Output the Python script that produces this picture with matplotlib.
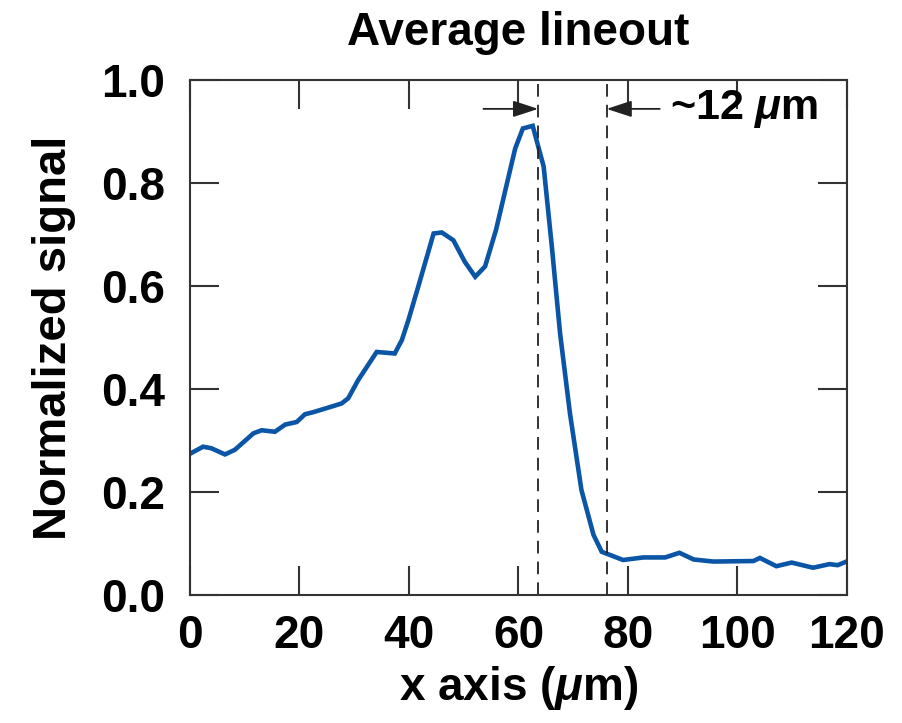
import matplotlib
matplotlib.use("Agg")
import matplotlib.pyplot as plt

plt.rcParams['font.family'] = ['Liberation Sans', 'DejaVu Sans']
plt.rcParams['font.weight'] = 'bold'
plt.rcParams['mathtext.fontset'] = 'custom'
plt.rcParams['mathtext.it'] = 'Liberation Sans:bold:italic'
plt.rcParams['mathtext.rm'] = 'Liberation Sans:bold'

x_um = [0.3, 2.4, 3.9, 6.4, 8.2, 11.6, 13.1, 15.5, 17.4, 19.5, 21.0, 22.5, 25.9, 27.7,
        28.9, 30.7, 34.1, 37.4, 38.7, 39.9, 41.7, 44.5, 46.0, 48.1, 50.2, 52.1, 53.9,
        55.9, 57.8, 59.4, 60.8, 62.6, 64.6, 66.1, 67.6, 69.4, 71.5, 73.7, 75.2, 79.1,
        82.8, 86.8, 89.4, 92.0, 95.6, 102.9, 104.1, 107.1, 109.9, 113.8, 116.8, 118.3, 119.9]
signal = [0.276, 0.288, 0.285, 0.273, 0.282, 0.314, 0.320, 0.317, 0.331, 0.336, 0.351,
          0.355, 0.366, 0.372, 0.382, 0.417, 0.472, 0.469, 0.495, 0.534, 0.599, 0.702,
          0.704, 0.689, 0.647, 0.618, 0.638, 0.709, 0.795, 0.867, 0.906, 0.911, 0.832,
          0.676, 0.508, 0.353, 0.204, 0.117, 0.084, 0.068, 0.073, 0.073, 0.082, 0.069,
          0.065, 0.066, 0.072, 0.056, 0.063, 0.053, 0.060, 0.058, 0.065]
marker_lines = [63.6, 76.1]
x_ticks = [0, 20, 40, 60, 80, 100, 120]
y_ticks = [0.0, 0.2, 0.4, 0.6, 0.8, 1.0]

fig = plt.figure(figsize=(9.02, 7.23), dpi=100)
ax = fig.add_axes([0.2106, 0.177, 0.7284, 0.7123])

ax.plot(x_um, signal, color='#0a55a5', lw=3.3, solid_joinstyle='miter')
for xv in marker_lines:
    ax.axvline(xv, color='#222222', lw=1.3, ls=(0, (7, 4.5)))

for xv, start in ((marker_lines[0], 53.6), (marker_lines[1], 85.8)):
    ax.annotate('', xy=(xv, 0.944), xytext=(start, 0.944),
                arrowprops=dict(arrowstyle='-|>,head_length=0.55,head_width=0.18',
                                color='#222222', lw=1.3,
                                mutation_scale=28, shrinkA=0, shrinkB=0))
ax.text(87.6, 0.944, r'~12 $\mu$m', fontsize=31, fontweight='bold', va='center', ha='left')

ax.set_xlim(0, 120)
ax.set_ylim(0, 1.0)
ax.set_xticks(x_ticks)
ax.set_yticks(y_ticks)
ax.set_xticklabels([str(v) for v in x_ticks])
ax.set_yticklabels([f'{v:.1f}' for v in y_ticks])
ax.tick_params(direction='in', length=21, width=1.5, color='#333333',
               top=True, right=True, labelsize=33)
ax.tick_params(axis='x', pad=14)
ax.tick_params(axis='y', pad=18)
for lab in ax.get_xticklabels() + ax.get_yticklabels():
    lab.set_fontweight('bold')
for s in ax.spines.values():
    s.set_linewidth(1.5)
    s.set_color('#333333')

ax.set_xlabel(r'x axis ($\mu$m)', fontsize=33, fontweight='bold', labelpad=4)
ax.set_ylabel('Normalized signal', fontsize=34, fontweight='bold', labelpad=18)
ax.set_title('Average lineout', fontsize=33, fontweight='bold', pad=25)

fig.savefig('out.png', dpi=100)
